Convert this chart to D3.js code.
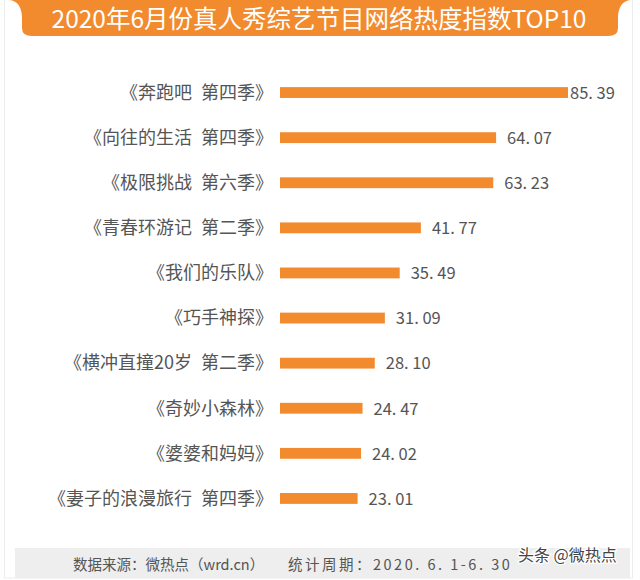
<!DOCTYPE html>
<html>
<head>
    <meta charset="utf-8">
    <title>真人秀综艺节目网络热度指数</title>
    <script src="https://cdn.jsdelivr.net/npm/d3@7"></script>
    <style>
        body { margin: 0; background: #fff; }
        svg { display: block; font-family: "Noto Sans CJK SC", "Noto Sans", sans-serif; }
    </style>
</head>
<body>
    <svg width="640" height="580" id="mainsvg"></svg>
    <script>
        const shows = ['《奔跑吧\u2002第四季》', '《向往的生活\u2002第四季》', '《极限挑战\u2002第六季》', '《青春环游记\u2002第二季》',
            '《我们的乐队》', '《巧手神探》', '《横冲直撞20岁\u2002第二季》', '《奇妙小森林》', '《婆婆和妈妈》', '《妻子的浪漫旅行\u2002第四季》'];
        const heat = [85.39, 64.07, 63.23, 41.77, 35.49, 31.09, 28.10, 24.47, 24.02, 23.01];
        const title = '2020年6月份真人秀综艺节目网络热度指数TOP10';
        const source = '数据来源：微热点（wrd.cn）';
        const period = '统计周期：2020. 6. 1-6. 30';

        const svg = d3.select('svg');
        const orange = '#f28a2e';
        const margin = { top: 70, left: 280, right: 72, bottom: 60 };

        // card frame
        svg.append('rect')
            .attr('x', 4.5).attr('y', -2).attr('width', 628).attr('height', 580)
            .attr('fill', '#fff').attr('stroke', '#ececec');

        // title tab
        const tab = d3.path();
        tab.moveTo(8, 0);
        tab.bezierCurveTo(18, 0, 22, 8, 22, 18);
        tab.lineTo(22, 28);
        tab.quadraticCurveTo(22, 36, 32, 36);
        tab.lineTo(608, 36);
        tab.quadraticCurveTo(618, 36, 618, 28);
        tab.lineTo(618, 18);
        tab.bezierCurveTo(618, 8, 622, 0, 632, 0);
        tab.closePath();
        svg.append('path').attr('d', tab.toString()).attr('fill', orange);
        svg.append('text')
            .attr('x', 319).attr('y', 28)
            .attr('text-anchor', 'middle')
            .attr('fill', '#fff')
            .attr('font-size', 24.5)
            .text(title);

        const xScale = d3.scaleLinear()
            .domain([0, 85.39])
            .range([margin.left, 568]);
        const yScale = d3.scaleBand()
            .domain(shows)
            .range([margin.top, 521])
            .paddingInner(0.76)
            .paddingOuter(0.38);

        const g = svg.append('g').attr('id', 'bars');
        g.selectAll('.bar').data(shows)
            .join('rect')
            .attr('class', 'bar')
            .attr('x', xScale(0))
            .attr('y', d => yScale(d))
            .attr('width', (d, i) => xScale(heat[i]) - xScale(0))
            .attr('height', yScale.bandwidth())
            .attr('fill', orange);

        g.selectAll('.name').data(shows)
            .join('text')
            .attr('class', 'name')
            .attr('x', 273)
            .attr('y', d => yScale(d) + yScale.bandwidth() / 2)
            .attr('dy', '0.35em')
            .attr('text-anchor', 'end')
            .attr('fill', '#555')
            .attr('font-size', 18)
            .text(d => d);

        g.selectAll('.val').data(shows)
            .join('text')
            .attr('class', 'val')
            .attr('x', (d, i) => Math.min(xScale(heat[i]) + 11, 570))
            .attr('y', d => yScale(d) + yScale.bandwidth() / 2)
            .attr('dy', '0.38em')
            .attr('fill', '#555')
            .attr('font-size', 16.5)
            .text((d, i) => heat[i].toFixed(2).replace('.', '. '));

        // footer
        svg.append('rect')
            .attr('x', 15).attr('y', 548).attr('width', 615).attr('height', 30)
            .attr('fill', '#eeeeee');
        svg.append('text')
            .attr('x', 73).attr('y', 570)
            .attr('fill', '#555').attr('font-size', 14.5)
            .text(source);
        svg.append('text')
            .attr('x', 288).attr('y', 570)
            .attr('fill', '#555').attr('font-size', 14.5)
            .attr('letter-spacing', 2.5)
            .text(period);
        svg.append('text')
            .attr('x', 518).attr('y', 561)
            .attr('fill', '#444').attr('font-size', 16)
            .attr('stroke', '#fff').attr('stroke-width', 2.5).attr('paint-order', 'stroke')
            .text('头条 @微热点');
    </script>
</body>
</html>
